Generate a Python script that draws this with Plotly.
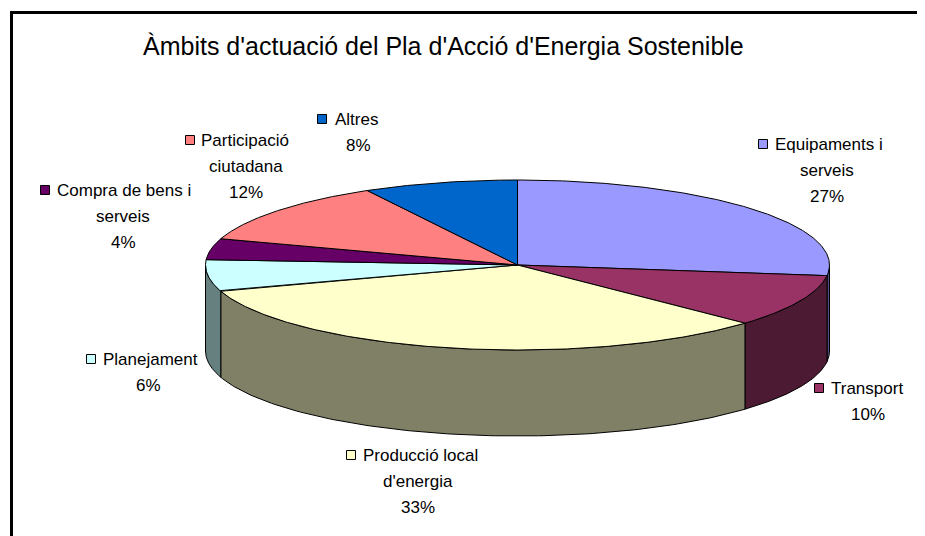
import numpy as np
import plotly.graph_objects as go

# ---------------- data ----------------
categories = ["Equipaments i serveis", "Transport", "Producció local d'energia",
              "Planejament", "Compra de bens i serveis", "Participació ciutadana", "Altres"]
values = [27, 10, 33, 6, 4, 12, 8]
label_lines = [["Equipaments i", "serveis"], ["Transport"], ["Producció local", "d'energia"],
               ["Planejament"], ["Compra de bens i", "serveis"], ["Participació", "ciutadana"],
               ["Altres"]]
title_text = "Àmbits d'actuació del Pla d'Acció d'Energia Sostenible"

# ---------------- style / layout ----------------
top_colors = ["#9999FF", "#993366", "#FFFFCC", "#CCFFFF", "#660066", "#FF8080", "#0066CC"]
side_colors = ["#4D4D80", "#4D1A33", "#808066", "#668080", "#330033", "#804040", "#003366"]
W, H = 925, 536
OFF = 8  # page body margin
CX, CY, RX, RY, DEPTH = 517.5, 265.0, 312.0, 85.0, 86.0
label_pos = [
    dict(kx=763, tx=829, x2=827, y=144),
    dict(kx=819, tx=867, x2=868, y=388),
    dict(kx=351, tx=420, x2=418, y=455),
    dict(kx=91, tx=150, x2=148, y=359),
    dict(kx=45, tx=124, x2=123, y=190),
    dict(kx=190, tx=245, x2=246, y=140),
    dict(kx=322, tx=356, x2=358, y=119),
]
LINE_H = 26
FONT = "Liberation Sans, Arial, sans-serif"

fig = go.Figure()

total = float(sum(values))
fracs = np.cumsum([0] + values) / total
angles = fracs * 2 * np.pi  # clockwise from top


def ex(t):
    return CX + RX * np.sin(t)


def ey(t):
    return CY - RY * np.cos(t)


# side walls (front half only)
for i in range(len(values)):
    a, b = angles[i], angles[i + 1]
    s, e = max(a, np.pi / 2), min(b, 3 * np.pi / 2)
    if e <= s:
        continue
    t = np.linspace(s, e, 120)
    xs = np.concatenate([ex(t), ex(t[::-1]), [ex(t[0])]])
    ys = np.concatenate([ey(t), ey(t[::-1]) + DEPTH, [ey(t[0])]])
    fig.add_trace(go.Scatter(x=xs, y=ys, mode="lines", fill="toself",
                             fillcolor=side_colors[i],
                             line=dict(color="black", width=1),
                             hoverinfo="skip", showlegend=False))

# top faces
for i in range(len(values)):
    a, b = angles[i], angles[i + 1]
    t = np.linspace(a, b, 200)
    xs = np.concatenate([[CX], ex(t), [CX]])
    ys = np.concatenate([[CY], ey(t), [CY]])
    fig.add_trace(go.Scatter(x=xs, y=ys, mode="lines", fill="toself",
                             fillcolor=top_colors[i],
                             line=dict(color="black", width=1),
                             hoverinfo="skip", showlegend=False,
                             name=categories[i]))

# labels
annotations = []
for i, cat in enumerate(categories):
    p = label_pos[i]
    fig.add_trace(go.Scatter(x=[p["kx"]], y=[p["y"]], mode="markers",
                             marker=dict(symbol="square", size=9, color=top_colors[i],
                                         line=dict(color="black", width=1)),
                             hoverinfo="skip", showlegend=False))
    lines = label_lines[i] + [f"{values[i]}%"]
    for j, ln in enumerate(lines):
        annotations.append(dict(x=p["tx"] if j == 0 else p["x2"], y=p["y"] + j * LINE_H,
                                xref="x", yref="y", text=ln, showarrow=False,
                                xanchor="center", yanchor="middle",
                                font=dict(family=FONT, size=17, color="black")))

annotations.append(dict(x=443, y=46, xref="x", yref="y", text=title_text, showarrow=False,
                        xanchor="center", yanchor="middle",
                        font=dict(family="Liberation Sans Narrow, Arial Narrow, Liberation Sans, sans-serif",
                                  size=25, color="black")))

shapes = [
    dict(type="line", xref="x", yref="y", x0=11.5, y0=12.5, x1=11.5, y1=560,
         line=dict(color="black", width=3)),
    dict(type="line", xref="x", yref="y", x0=10, y0=12.5, x1=960, y1=12.5,
         line=dict(color="black", width=3)),
]

fig.update_layout(
    width=W, height=H,
    margin=dict(l=0, r=0, t=0, b=0),
    paper_bgcolor="white", plot_bgcolor="white",
    xaxis=dict(range=[OFF, W + OFF], visible=False, fixedrange=True),
    yaxis=dict(range=[H + OFF, OFF], visible=False, fixedrange=True),
    annotations=annotations, shapes=shapes, showlegend=False,
)

fig.write_html("out.html")
